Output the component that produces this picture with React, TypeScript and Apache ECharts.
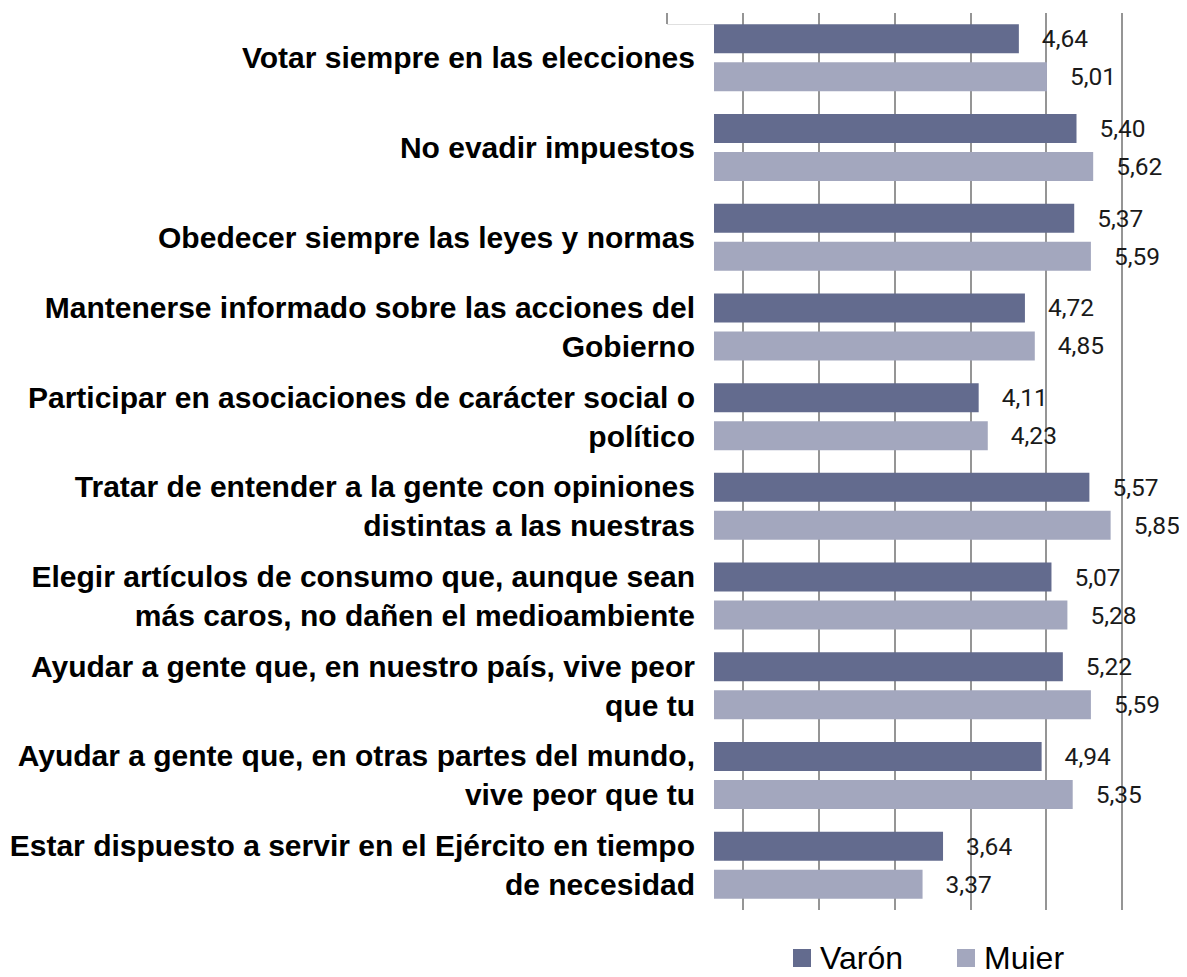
import React, { useEffect, useRef } from "react";
import * as echarts from "echarts";

const categories = [
  "Votar siempre en las elecciones",
  "No evadir impuestos",
  "Obedecer siempre las leyes y normas",
  "Mantenerse informado sobre las acciones del\nGobierno",
  "Participar en asociaciones de carácter social o\npolítico",
  "Tratar de entender a la gente con opiniones\ndistintas a las nuestras",
  "Elegir artículos de consumo que, aunque sean\nmás caros, no dañen el medioambiente",
  "Ayudar a gente que, en nuestro país, vive peor\nque tu",
  "Ayudar a gente que, en otras partes del mundo,\nvive peor que tu",
  "Estar dispuesto a servir en el Ejército en tiempo\nde necesidad",
];
const varon = [4.64, 5.4, 5.37, 4.72, 4.11, 5.57, 5.07, 5.22, 4.94, 3.64];
const mujer = [5.01, 5.62, 5.59, 4.85, 4.23, 5.85, 5.28, 5.59, 5.35, 3.37];
const seriesNames = ["Varón", "Mujer"];

const SANS = "'Liberation Sans', Arial, sans-serif";

export default function App() {
  const ref = useRef<HTMLDivElement>(null);
  useEffect(() => {
    if (!ref.current) return;
    const chart = echarts.init(ref.current, undefined, { renderer: "svg" });
    const labelCfg = {
      show: true,
      position: "right",
      distance: 23,
      fontFamily: "Roboto, sans-serif",
      fontSize: 24.5,
      color: "#1a1a1a",
      formatter: (p: any) => Number(p.value).toFixed(2).replace(".", ","),
    };
    chart.setOption({
      animation: false,
      backgroundColor: "#ffffff",
      grid: {
        left: 667,
        right: 65,
        top: 13,
        bottom: 67,
        containLabel: false,
        outerBoundsMode: "none",
      },
      xAxis: {
        type: "value",
        min: 0,
        max: 6,
        interval: 1,
        axisLabel: { show: false },
        axisLine: { show: false },
        axisTick: { show: false },
        splitLine: { show: true, lineStyle: { color: "#959595", width: 2 } },
      },
      yAxis: {
        type: "category",
        data: categories,
        inverse: true,
        offset: -47,
        z: 10,
        axisLine: { show: false },
        axisTick: { show: false },
        axisLabel: {
          margin: 19,
          fontFamily: SANS,
          fontWeight: "bold",
          fontSize: 30,
          lineHeight: 39,
          color: "#000000",
        },
      },
      legend: {
        data: seriesNames,
        left: 788,
        top: 936,
        padding: 5,
        itemWidth: 18,
        itemHeight: 18,
        itemGap: 54,
        icon: "rect",
        textStyle: {
          fontFamily: SANS,
          fontSize: 32,
          lineHeight: 34,
          color: "#000000",
          padding: [0, 0, 0, 4],
        },
      },
      graphic: [
        {
          type: "rect",
          z: 5,
          shape: { x: 664, y: 24, width: 50, height: 890 },
          style: { fill: "#ffffff" },
        },
        {
          type: "line",
          z: 6,
          shape: { x1: 667, y1: 24.5, x2: 714, y2: 24.5 },
          style: { stroke: "#e0e0e0", lineWidth: 1 },
        },
      ],
      series: [
        {
          name: seriesNames[0],
          type: "bar",
          data: varon,
          barWidth: 29,
          barGap: "31%",
          itemStyle: { color: "#636b8e" },
          label: labelCfg,
        },
        {
          name: seriesNames[1],
          type: "bar",
          data: mujer,
          barWidth: 29,
          barGap: "31%",
          itemStyle: { color: "#a3a7be" },
          label: labelCfg,
        },
      ],
    });
    return () => chart.dispose();
  }, []);
  return <div ref={ref} style={{ width: 1187, height: 977, margin: -8 }} />;
}
